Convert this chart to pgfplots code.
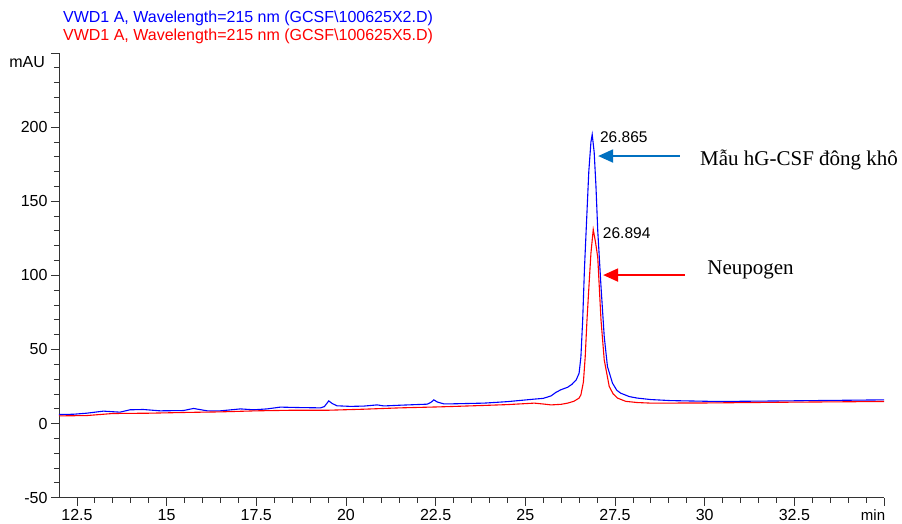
\documentclass[border=0pt]{standalone}
\usepackage{fontspec}
\setmainfont{Liberation Sans}
\newfontfamily\tnr{Liberation Serif}
\usepackage{pgfplots}
\pgfplotsset{compat=1.18}
\usetikzlibrary{arrows.meta}
\definecolor{arrblue}{RGB}{0,112,192}
\definecolor{lblue}{RGB}{0,0,255}
\definecolor{lred}{RGB}{255,0,0}

\pgfplotstableread{
x y
12.0 6.1
12.4 6.3
12.77 7.0
13.24 8.4
13.70 7.7
13.98 9.3
14.35 9.5
14.82 8.6
15.47 8.8
15.75 10.2
16.13 8.6
16.5 8.6
17.06 9.9
17.43 9.3
17.80 9.9
18.17 11.1
18.73 10.8
19.29 10.6
19.40 11.5
19.52 15.3
19.62 13.5
19.75 12.0
20.13 11.6
20.5 11.8
20.87 12.6
21.06 11.9
21.52 12.4
22.27 13.1
22.38 14.5
22.45 16.0
22.55 14.5
22.73 13.3
22.92 13.3
23.85 13.8
24.5 14.8
25.25 16.5
25.5 17.0
25.72 18.7
25.85 21.0
25.99 22.8
26.18 24.5
26.30 26.5
26.42 29.5
26.50 34
26.55 45
26.60 70
26.65 105
26.71 137.6
26.77 170
26.83 190
26.865 195
26.92 183
26.97 160
27.02 130
27.11 92.6
27.2 58.8
27.29 38.5
27.43 27.3
27.55 22.5
27.66 20.5
27.9 18.2
28.12 17.2
28.5 16.2
29.05 15.5
30.37 14.9
32.22 15.3
35.0 16.0
}\bluedata

\pgfplotstableread{
x y
12.0 5.2
12.77 5.4
13.5 6.8
14.5 7.0
15.5 7.5
16.5 7.9
17.5 8.6
18.5 9.0
19.5 9.0
20.5 9.7
21.5 10.6
22.5 11.2
22.92 11.5
23.8 12.2
24.5 12.8
25.25 13.8
25.5 13.2
25.72 12.6
26.0 13.0
26.18 13.8
26.35 15.0
26.42 16.0
26.50 17.2
26.55 19.4
26.62 28
26.67 45
26.72 70
26.78 95
26.83 115
26.894 130.9
26.96 122
27.02 112
27.11 70
27.2 43
27.34 25
27.45 20
27.57 17.2
27.8 15.0
28.12 14.2
28.5 13.8
30.0 13.9
32.2 14.4
35.0 14.9
}\reddata

\begin{document}
\begin{tikzpicture}
\begin{axis}[
  scale only axis, width=825pt, height=444.7pt,
  xmin=12, xmax=35, ymin=-50, ymax=250,
  axis x line=bottom, axis y line=left,
  axis line style={-, black!80, line width=0.8pt},
  tick align=outside, major tick length=8pt, minor tick length=5pt,
  xtick={12.5,15,17.5,20,22.5,25,27.5,30,32.5,35},
  xticklabels={12.5,15,17.5,20,22.5,25,27.5,30,32.5,{}},
  ytick={-50,0,50,100,150,200,250},
  yticklabels={-50,0,50,100,150,200,{}},
  minor x tick num=4, minor y tick num=4,
  tick style={black!80, line width=0.8pt},
  tick label style={font=\fontsize{16}{19}\selectfont},
  clip=false,
]
\coordinate (O) at (rel axis cs:0,0);
\addplot[lblue, line width=1.1pt] table {\bluedata};
\addplot[lred, line width=1.1pt] table {\reddata};

\node[anchor=west, font=\fontsize{16}{19}\selectfont, text=lblue, inner sep=0pt] at (axis cs:12.11,273.6) {VWD1 A, Wavelength=215 nm (GCSF\textbackslash 100625X2.D)};
\node[anchor=west, font=\fontsize{16}{19}\selectfont, text=lred, inner sep=0pt] at (axis cs:12.11,261.5) {VWD1 A, Wavelength=215 nm (GCSF\textbackslash 100625X5.D)};
\node[anchor=east, font=\fontsize{16}{19}\selectfont, inner sep=0pt] at (axis cs:11.61,243.9) {mAU};

\node[anchor=west, font=\fontsize{15.5}{18}\selectfont, inner sep=0pt] at (axis cs:27.08,193.5) {26.865};
\node[anchor=west, font=\fontsize{15.5}{18}\selectfont, inner sep=0pt] at (axis cs:27.16,128.4) {26.894};

\draw[arrblue, line width=2pt, -{Triangle[length=15pt,width=13pt]}] (axis cs:29.31,180.5) -- (axis cs:27.03,180.5);
\draw[lred, line width=2pt, -{Triangle[length=15pt,width=13pt]}] (axis cs:29.45,100.2) -- (axis cs:27.17,100.2);

\node[anchor=west, font=\tnr\fontsize{21}{24}\selectfont, inner sep=0pt] at (axis cs:29.87,177.8) {Mẫu hG-CSF đông khô};
\node[anchor=west, font=\tnr\fontsize{21}{24}\selectfont, inner sep=0pt] at (axis cs:30.07,103.6) {Neupogen};
\end{axis}
\node[font=\fontsize{15}{18}\selectfont, inner sep=0pt, anchor=base] at ([shift={(814pt,-23pt)}]O) {min};
\pgfresetboundingbox
\path[use as bounding box] ([shift={(-59pt,-26.3pt)}]O) rectangle ++(902pt,524pt);
\end{tikzpicture}
\end{document}
